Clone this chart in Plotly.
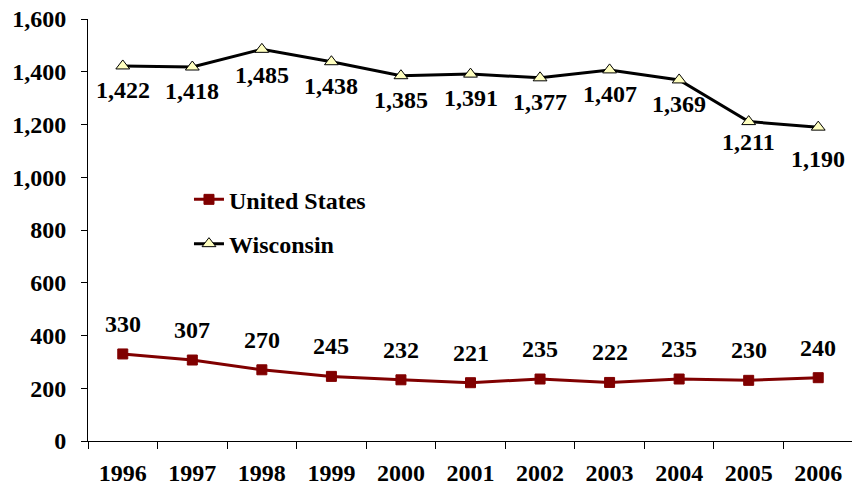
import plotly.graph_objects as go

years = [1996, 1997, 1998, 1999, 2000, 2001, 2002, 2003, 2004, 2005, 2006]
us_values = [330, 307, 270, 245, 232, 221, 235, 222, 235, 230, 240]
wi_values = [1422, 1418, 1485, 1438, 1385, 1391, 1377, 1407, 1369, 1211, 1190]
y_ticks = [0, 200, 400, 600, 800, 1000, 1200, 1400, 1600]

FONT = "Liberation Serif"
FS = 24
F = dict(family=FONT, size=FS, color="black", weight="bold")

fig = go.Figure()
fig.add_trace(go.Scatter(
    x=years, y=us_values, name="United States", mode="lines+markers",
    line=dict(color="#800000", width=3),
    marker=dict(symbol="square", size=10, color="#800000", line=dict(color="#800000", width=1)),
    legend="legend", showlegend=True,
))
fig.add_trace(go.Scatter(
    x=years, y=wi_values, name="Wisconsin", mode="lines+markers",
    line=dict(color="#000000", width=3),
    marker=dict(symbol="triangle-up", size=12, color="#FFFFC0", line=dict(color="#000000", width=1)),
    legend="legend2", showlegend=True,
))

annotations = []
for x, v in zip(years, us_values):
    annotations.append(dict(x=x, y=v, text=f"{v:,}", showarrow=False, yshift=30, font=F))
wi_shift = [-24, -24, -26, -24, -24, -24, -24, -24, -24, -20, -32]
for x, v, s in zip(years, wi_values, wi_shift):
    annotations.append(dict(x=x, y=v, text=f"{v:,}", showarrow=False, yshift=s, font=F))

fig.update_layout(
    width=852, height=481,
    margin=dict(l=80, r=7, t=11, b=48),
    plot_bgcolor="white", paper_bgcolor="white",
    font=F, showlegend=True,
    annotations=annotations,
    legend=dict(x=0.132, y=0.625, xanchor="left", yanchor="top", bgcolor="rgba(0,0,0,0)",
                font=F, itemwidth=30),
    legend2=dict(x=0.132, y=0.52, xanchor="left", yanchor="top", bgcolor="rgba(0,0,0,0)",
                 font=F, itemwidth=30),
    xaxis=dict(
        range=[1995.5, 2006.5], tickvals=years, ticktext=[str(y) for y in years],
        ticks="", showgrid=False, zeroline=False, showline=True, linecolor="black", linewidth=1,
        ticklabelstandoff=10, automargin=False, ticklabeloverflow="allow",
        minor=dict(ticks="outside", tick0=1995.5, dtick=1, ticklen=7, tickcolor="black", showgrid=False),
        tickfont=F,
    ),
    yaxis=dict(
        range=[0, 1600], tickvals=y_ticks, ticktext=[f"{t:,}" for t in y_ticks],
        ticks="outside", ticklen=6, tickcolor="black", showgrid=False, zeroline=False,
        showline=True, linecolor="black", linewidth=1, ticklabelstandoff=10, automargin=False,
        ticklabeloverflow="allow",
        tickfont=F,
    ),
)

fig.write_html("out.html")
